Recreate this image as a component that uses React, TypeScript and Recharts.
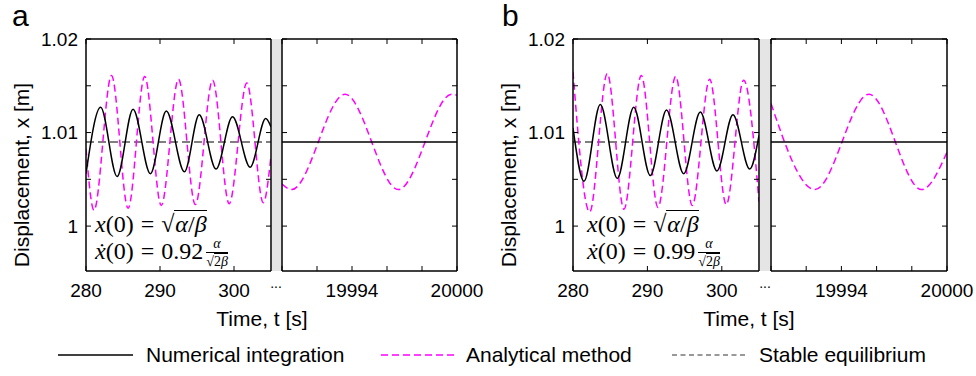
import React from 'react';
import { LineChart, Line, XAxis, YAxis } from 'recharts';

type Pt = { t: number; v: number };

// panel a, t = 280..305 s (peaks and troughs)
const aEarlyNumerical: Pt[] = [
	{ t: 280, v: 1.0056 }, { t: 281.98, v: 1.0127 }, { t: 284.2, v: 1.0053 },
	{ t: 286.36, v: 1.0125 }, { t: 288.7, v: 1.0056 }, { t: 290.85, v: 1.0123 },
	{ t: 293.3, v: 1.0058 }, { t: 295.3, v: 1.0119 }, { t: 297.57, v: 1.0061 },
	{ t: 299.8, v: 1.0117 }, { t: 302.18, v: 1.0063 }, { t: 304.29, v: 1.0115 },
	{ t: 305, v: 1.0106 },
];
const aEarlyAnalytical: Pt[] = [
	{ t: 280, v: 1.0083 }, { t: 281.08, v: 1.0017 }, { t: 283.45, v: 1.0161 },
	{ t: 285.69, v: 1.0019 }, { t: 287.93, v: 1.016 }, { t: 290.17, v: 1.0022 },
	{ t: 292.5, v: 1.0157 }, { t: 294.78, v: 1.0023 }, { t: 297.11, v: 1.0156 },
	{ t: 299.35, v: 1.0024 }, { t: 301.73, v: 1.0153 }, { t: 303.96, v: 1.0025 },
	{ t: 305, v: 1.0075 },
];
// panel a, t = 19990..20000 s
const aLateNumerical: Pt[] = [{ t: 19990, v: 1.009 }, { t: 20000, v: 1.009 }];
const aLateAnalytical: Pt[] = [
	{ t: 19990, v: 1.0045 }, { t: 19990.55, v: 1.0039 }, { t: 19993.6, v: 1.0141 },
	{ t: 19996.65, v: 1.0039 }, { t: 19999.7, v: 1.0141 }, { t: 20000, v: 1.014 },
];

// panel b, t = 280..305 s
const bEarlyNumerical: Pt[] = [
	{ t: 280, v: 1.0105 }, { t: 281.48, v: 1.0048 }, { t: 283.67, v: 1.013 },
	{ t: 285.95, v: 1.0051 }, { t: 288.16, v: 1.0127 }, { t: 290.39, v: 1.0054 },
	{ t: 292.57, v: 1.0124 }, { t: 294.88, v: 1.0056 }, { t: 297.11, v: 1.0122 },
	{ t: 299.35, v: 1.0059 }, { t: 301.5, v: 1.0119 }, { t: 303.75, v: 1.0061 },
	{ t: 305, v: 1.0097 },
];
const bEarlyAnalytical: Pt[] = [
	{ t: 280, v: 1.0165 }, { t: 282.24, v: 1.0015 }, { t: 284.61, v: 1.0163 },
	{ t: 286.85, v: 1.0018 }, { t: 289.18, v: 1.0161 }, { t: 291.42, v: 1.002 },
	{ t: 293.8, v: 1.016 }, { t: 296.03, v: 1.0022 }, { t: 298.37, v: 1.0157 },
	{ t: 300.6, v: 1.0023 }, { t: 302.94, v: 1.0156 }, { t: 305, v: 1.0026 },
];
// panel b, t = 19990..20000 s
const bLateNumerical: Pt[] = [{ t: 19990, v: 1.009 }, { t: 20000, v: 1.009 }];
const bLateAnalytical: Pt[] = [
	{ t: 19990, v: 1.0131 }, { t: 19992.5, v: 1.0039 }, { t: 19995.57, v: 1.0141 },
	{ t: 19998.56, v: 1.0039 }, { t: 20000, v: 1.0079 },
];

const equilibrium = 1.009;

const yDomain = [0.9952, 1.02];
const yTicks = [1, 1.005, 1.01, 1.015, 1.02];
const yTickLabels: Record<string, string> = { '1': '1', '1.01': '1.01', '1.02': '1.02' };

const earlyDomain = [280, 305];
const earlyTicks = [280, 290, 300];
const earlyTickLabels: Record<string, string> = { '280': '280', '290': '290', '300': '300' };
const lateDomain = [19990, 20000];
const lateTicks = [19990, 19992, 19994, 19996, 19998, 20000];
const lateTickLabels: Record<string, string> = { '19994': '19994', '20000': '20000' };

const legendItems = ['Numerical integration', 'Analytical method', 'Stable equilibrium'];

const SANS = '"Liberation Sans", Arial, sans-serif';
const SERIF = '"Liberation Serif", "Times New Roman", serif';
const MAGENTA = '#ff00ff';
const TICK = 5;
const axisLine = { stroke: '#000', strokeWidth: 1.5 };

const bottomTick = (labels: Record<string, string>) => (p: any) => (
	<g>
		<line x1={p.x} x2={p.x} y1={p.y - 13} y2={p.y - 13 - TICK} stroke="#000" strokeWidth={1} />
		<text x={p.x} y={p.y} dy="0.71em" textAnchor="middle" fontFamily={SANS} fontSize={19} fill="#000">
			{labels[String(p.payload.value)] ?? ''}
		</text>
	</g>
);
const topTick = (p: any) => (
	<line x1={p.x} x2={p.x} y1={p.y} y2={p.y + TICK} stroke="#000" strokeWidth={1} />
);
const leftTick = (labels: Record<string, string>) => (p: any) => (
	<g>
		<line x1={p.x + 8} x2={p.x + 8 + TICK} y1={p.y} y2={p.y} stroke="#000" strokeWidth={1} />
		<text x={p.x} y={p.y} dy="0.36em" textAnchor="end" fontFamily={SANS} fontSize={19} fill="#000">
			{labels[String(p.payload.value)] ?? ''}
		</text>
	</g>
);
const rightTick = (p: any) => (
	<line x1={p.x} x2={p.x - TICK} y1={p.y} y2={p.y} stroke="#000" strokeWidth={1} />
);

const TOP = 39;
const PLOT_H = 232;
const BOTTOM_H = 45;

const Panel = ({ left, axisW, plotW, rightPad, xDomain, xTicks, xLabels, yLabels, numerical, analytical, showEq }: any) => {
	const eq = [
		{ t: xDomain[0], v: equilibrium },
		{ t: xDomain[1], v: equilibrium },
	];
	return (
		<div style={{ position: 'absolute', left, top: 0 }}>
			<LineChart
				width={axisW + plotW + 1 + rightPad}
				height={TOP + PLOT_H + BOTTOM_H}
				margin={{ top: TOP - 1, right: rightPad, bottom: 0, left: 0 }}
			>
				<XAxis xAxisId="b" dataKey="t" type="number" domain={xDomain} ticks={xTicks} interval={0}
					allowDataOverflow tickSize={0} tickMargin={13} tickLine={false} axisLine={axisLine}
					height={BOTTOM_H} tick={bottomTick(xLabels)} />
				<XAxis xAxisId="t" orientation="top" dataKey="t" type="number" domain={xDomain} ticks={xTicks}
					interval={0} allowDataOverflow tickSize={0} tickMargin={0} tickLine={false} axisLine={axisLine}
					height={1} tick={topTick} />
				<YAxis yAxisId="l" type="number" domain={yDomain} ticks={yTicks} interval={0} allowDataOverflow
					tickSize={0} tickMargin={8} tickLine={false} axisLine={axisLine} width={axisW}
					tick={leftTick(yLabels)} />
				<YAxis yAxisId="r" orientation="right" type="number" domain={yDomain} ticks={yTicks} interval={0}
					allowDataOverflow tickSize={0} tickMargin={0} tickLine={false} axisLine={axisLine} width={1}
					tick={rightTick} />
				<Line xAxisId="t" yAxisId="r" data={eq} dataKey="v" stroke={showEq ? '#555' : 'none'} strokeWidth={1.5}
					strokeDasharray="8 4" dot={false} isAnimationActive={false} />
				<Line xAxisId="b" yAxisId="l" data={analytical} dataKey="v" type="monotone" stroke={MAGENTA}
					strokeWidth={1.5} strokeDasharray="7 4" dot={false} isAnimationActive={false} />
				<Line xAxisId="b" yAxisId="l" data={numerical} dataKey="v" type="monotone" stroke="#000"
					strokeWidth={1.5} dot={false} isAnimationActive={false} />
			</LineChart>
		</div>
	);
};

const eqSign = { margin: '0 7px' };

const MathNote = ({ left, coef }: { left: number; coef: string }) => (
	<div style={{ position: 'absolute', left, top: 0, fontFamily: SERIF, fontSize: 24, color: '#000', whiteSpace: 'nowrap' }}>
		<div style={{ position: 'absolute', left: 0, top: 210, lineHeight: '28px' }}>
			<i>x</i>(0)<span style={eqSign}>=</span>√<span style={{ borderTop: '1px solid #000', paddingLeft: 1 }}><i>α</i>/<i>β</i></span>
		</div>
		<div style={{ position: 'absolute', left: 0, top: 236, lineHeight: '28px' }}>
			<i>x&#775;</i>(0)<span style={eqSign}>=</span>{coef}
			<span style={{ display: 'inline-block', verticalAlign: 'middle', textAlign: 'center', fontSize: 14, lineHeight: '16px', marginLeft: 3 }}>
				<span style={{ display: 'block', borderBottom: '1px solid #000', padding: '0 1px' }}><i>α</i></span>
				<span style={{ display: 'block', paddingTop: 1 }}>√<span style={{ borderTop: '1px solid #000' }}>2<i>β</i></span></span>
			</span>
		</div>
	</div>
);

const Decor = () => (
	<svg width={976} height={376} style={{ position: 'absolute', left: 0, top: 0 }}>
		<rect x={272} y={39} width={9.5} height={232} fill="#e5e5e5" />
		<rect x={760} y={39} width={10} height={232} fill="#e5e5e5" />
		<g fontFamily={SANS} fill="#000">
			<text x={12} y={26} fontSize={30}>a</text>
			<text x={502} y={26} fontSize={30}>b</text>
			<text x={276} y={288} fontSize={14} textAnchor="middle">...</text>
			<text x={765} y={288} fontSize={14} textAnchor="middle">...</text>
			<text x={262} y={326} fontSize={21} textAnchor="middle">Time, t [s]</text>
			<text x={749} y={326} fontSize={21} textAnchor="middle">Time, t [s]</text>
			<text transform="translate(29,175) rotate(-90)" fontSize={21} textAnchor="middle">Displacement, x [m]</text>
			<text transform="translate(516,175) rotate(-90)" fontSize={21} textAnchor="middle">Displacement, x [m]</text>
		</g>
		<line x1={58} x2={133} y1={355} y2={355} stroke="#000" strokeWidth={1.3} />
		<line x1={381} x2={456} y1={355} y2={355} stroke={MAGENTA} strokeWidth={1.3} strokeDasharray="7 4" />
		<line x1={672} x2={747} y1={355} y2={355} stroke="#333" strokeWidth={1} strokeDasharray="5 3.5" />
		<g fontFamily={SANS} fontSize={21} fill="#000">
			<text x={146} y={362}>{legendItems[0]}</text>
			<text x={466} y={362}>{legendItems[1]}</text>
			<text x={759} y={362}>{legendItems[2]}</text>
		</g>
	</svg>
);

export default function App() {
	return (
		<div style={{ position: 'absolute', left: 0, top: 0, width: 976, height: 376, background: '#fff', overflow: 'hidden' }}>
			<Decor />
			<Panel left={0} axisW={86} plotW={185} rightPad={1} xDomain={earlyDomain} xTicks={earlyTicks}
				xLabels={earlyTickLabels} yLabels={yTickLabels} numerical={aEarlyNumerical} analytical={aEarlyAnalytical} showEq />
			<Panel left={272} axisW={10} plotW={175} rightPad={30} xDomain={lateDomain} xTicks={lateTicks}
				xLabels={lateTickLabels} yLabels={{}} numerical={aLateNumerical} analytical={aLateAnalytical} showEq={false} />
			<Panel left={487} axisW={86} plotW={186} rightPad={1} xDomain={earlyDomain} xTicks={earlyTicks}
				xLabels={earlyTickLabels} yLabels={yTickLabels} numerical={bEarlyNumerical} analytical={bEarlyAnalytical} showEq />
			<Panel left={761} axisW={10} plotW={176} rightPad={30} xDomain={lateDomain} xTicks={lateTicks}
				xLabels={lateTickLabels} yLabels={{}} numerical={bLateNumerical} analytical={bLateAnalytical} showEq={false} />
			<MathNote left={95} coef="0.92" />
			<MathNote left={587} coef="0.99" />
		</div>
	);
}
